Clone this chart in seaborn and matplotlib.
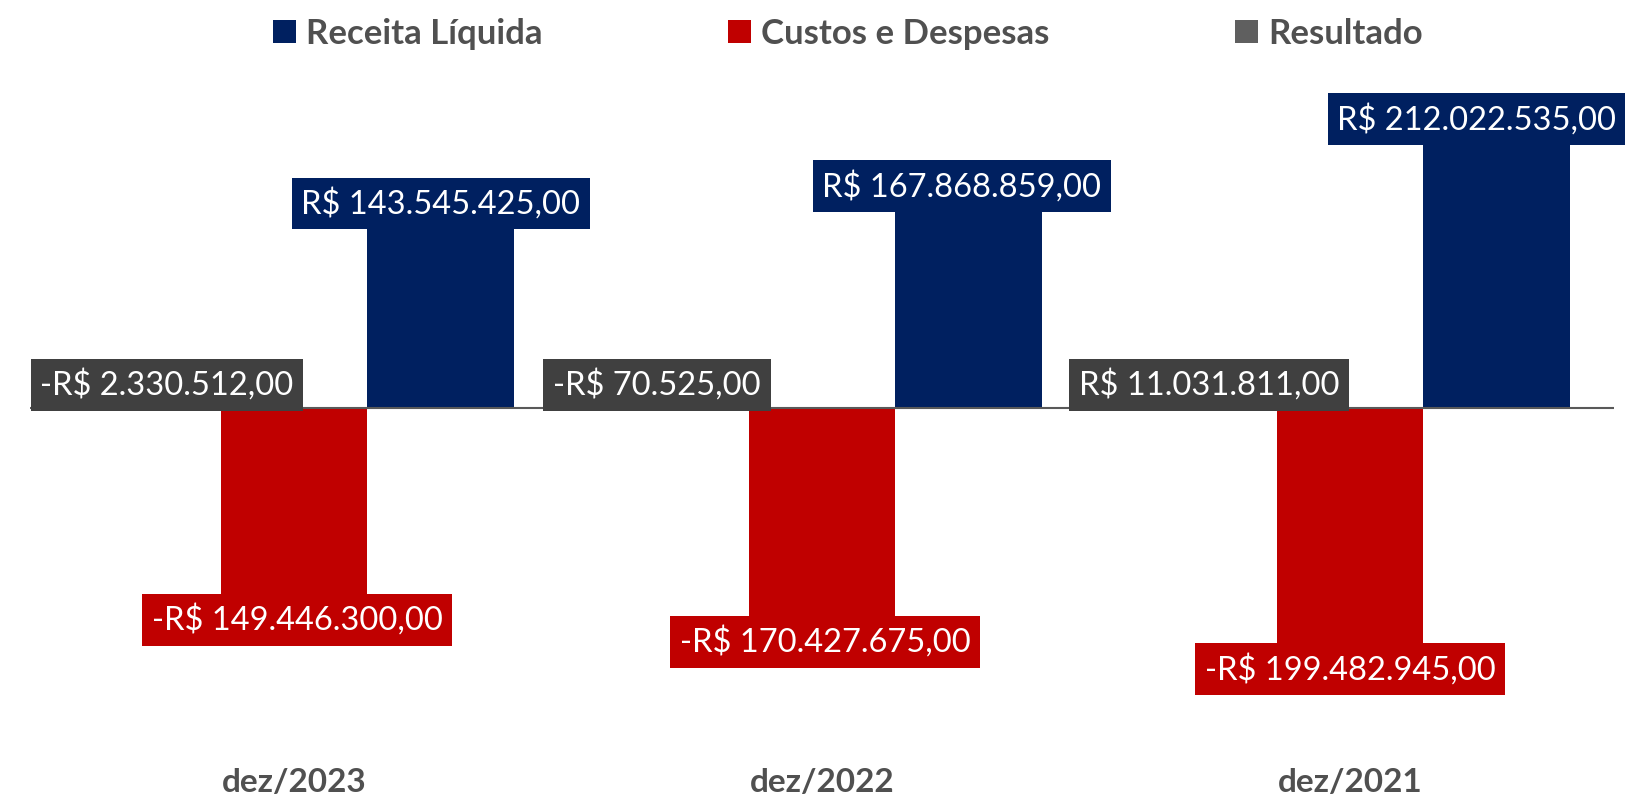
import pandas as pd
import matplotlib.pyplot as plt
from matplotlib.patches import Patch
import seaborn as sns

# dados do gráfico
periodos = ['dez/2023', 'dez/2022', 'dez/2021']
receita = [143545425, 167868859, 212022535]
custos = [-149446300, -170427675, -199482945]
resultado = [-2330512, -70525, 11031811]

series = ['Receita Líquida', 'Custos e Despesas', 'Resultado']
cores = {'Receita Líquida': '#002060', 'Custos e Despesas': '#C00000', 'Resultado': '#404040'}
cor_legenda = {'Receita Líquida': '#002060', 'Custos e Despesas': '#C00000', 'Resultado': '#5F5F5F'}

linhas = []
for i, p in enumerate(periodos):
    linhas.append([p, 'Receita Líquida', receita[i]])
    linhas.append([p, 'Custos e Despesas', custos[i]])
    linhas.append([p, 'Resultado', resultado[i]])
df = pd.DataFrame(linhas, columns=['periodo', 'serie', 'valor'])


def brl(v):
    s = f'{abs(v):,.2f}'.replace(',', 'X').replace('.', ',').replace('X', '.')
    return ('-R$ ' if v < 0 else 'R$ ') + s


sns.set_style('white')
plt.rcParams['font.family'] = ['Lato', 'DejaVu Sans']

W, H = 1625, 796
fig = plt.figure(figsize=(W / 100, H / 100), dpi=100)
ax = fig.add_axes([30 / W, 77 / H, 1584 / W, 622 / H])

ordem = ['Resultado', 'Custos e Despesas', 'Receita Líquida']
sns.barplot(data=df, x='periodo', y='valor', hue='serie', hue_order=ordem,
            order=periodos, palette=cores, saturation=1, width=0.835,
            errorbar=None, linewidth=0, legend=False, ax=ax)

ax.set_ylim(-250e6, 250e6)
ax.set_xlim(-0.5, 2.5)
ax.axhline(0, color='#595959', lw=1.5, zorder=3)

for s in ax.spines.values():
    s.set_visible(False)
ax.set_yticks([])
ax.set_xlabel('')
ax.set_ylabel('')
ax.tick_params(axis='x', length=0, pad=35, labelsize=24, labelcolor='#505050')
for t in ax.get_xticklabels():
    t.set_fontweight('bold')

# ajustes manuais de posição dos rótulos (pixels)
ajuste_y = {'Receita Líquida': [0, -13, -1], 'Custos e Despesas': [0, 4, 13]}
ajuste_x = {'Receita Líquida': [0, -7, -20], 'Custos e Despesas': [3, 3, 0],
            'Resultado': [20, -18, 6]}
pad_px = 10

for serie, cont in zip(ordem, ax.containers):
    for i, barra in enumerate(cont.patches):
        v = barra.get_height()
        xc = barra.get_x() + barra.get_width() / 2
        if serie == 'Resultado':
            y, dy, va = 0, 23, 'center'
        elif v >= 0:
            y, dy, va = v, pad_px + ajuste_y[serie][i], 'bottom'
        else:
            y, dy, va = v, -pad_px + ajuste_y[serie][i], 'top'
        ax.annotate(brl(v), (xc, y), xytext=(ajuste_x[serie][i], dy),
                    textcoords='offset pixels', ha='center', va=va,
                    fontsize=23.5, color='white', zorder=5,
                    bbox=dict(boxstyle='square,pad=0.3', fc=cores[serie], ec='none'))

handles = [Patch(facecolor=cor_legenda[s], edgecolor='none', label=s) for s in series]
leg = fig.legend(handles=handles, loc='center', bbox_to_anchor=(848 / W, 1 - 34 / H),
                 ncol=3, frameon=False, fontsize=25, handlelength=0.65, handleheight=0.65,
                 handletextpad=0.3, columnspacing=5.35)
for t in leg.get_texts():
    t.set_fontweight('bold')
    t.set_color('#505050')

fig.savefig('out.png', dpi=100)
